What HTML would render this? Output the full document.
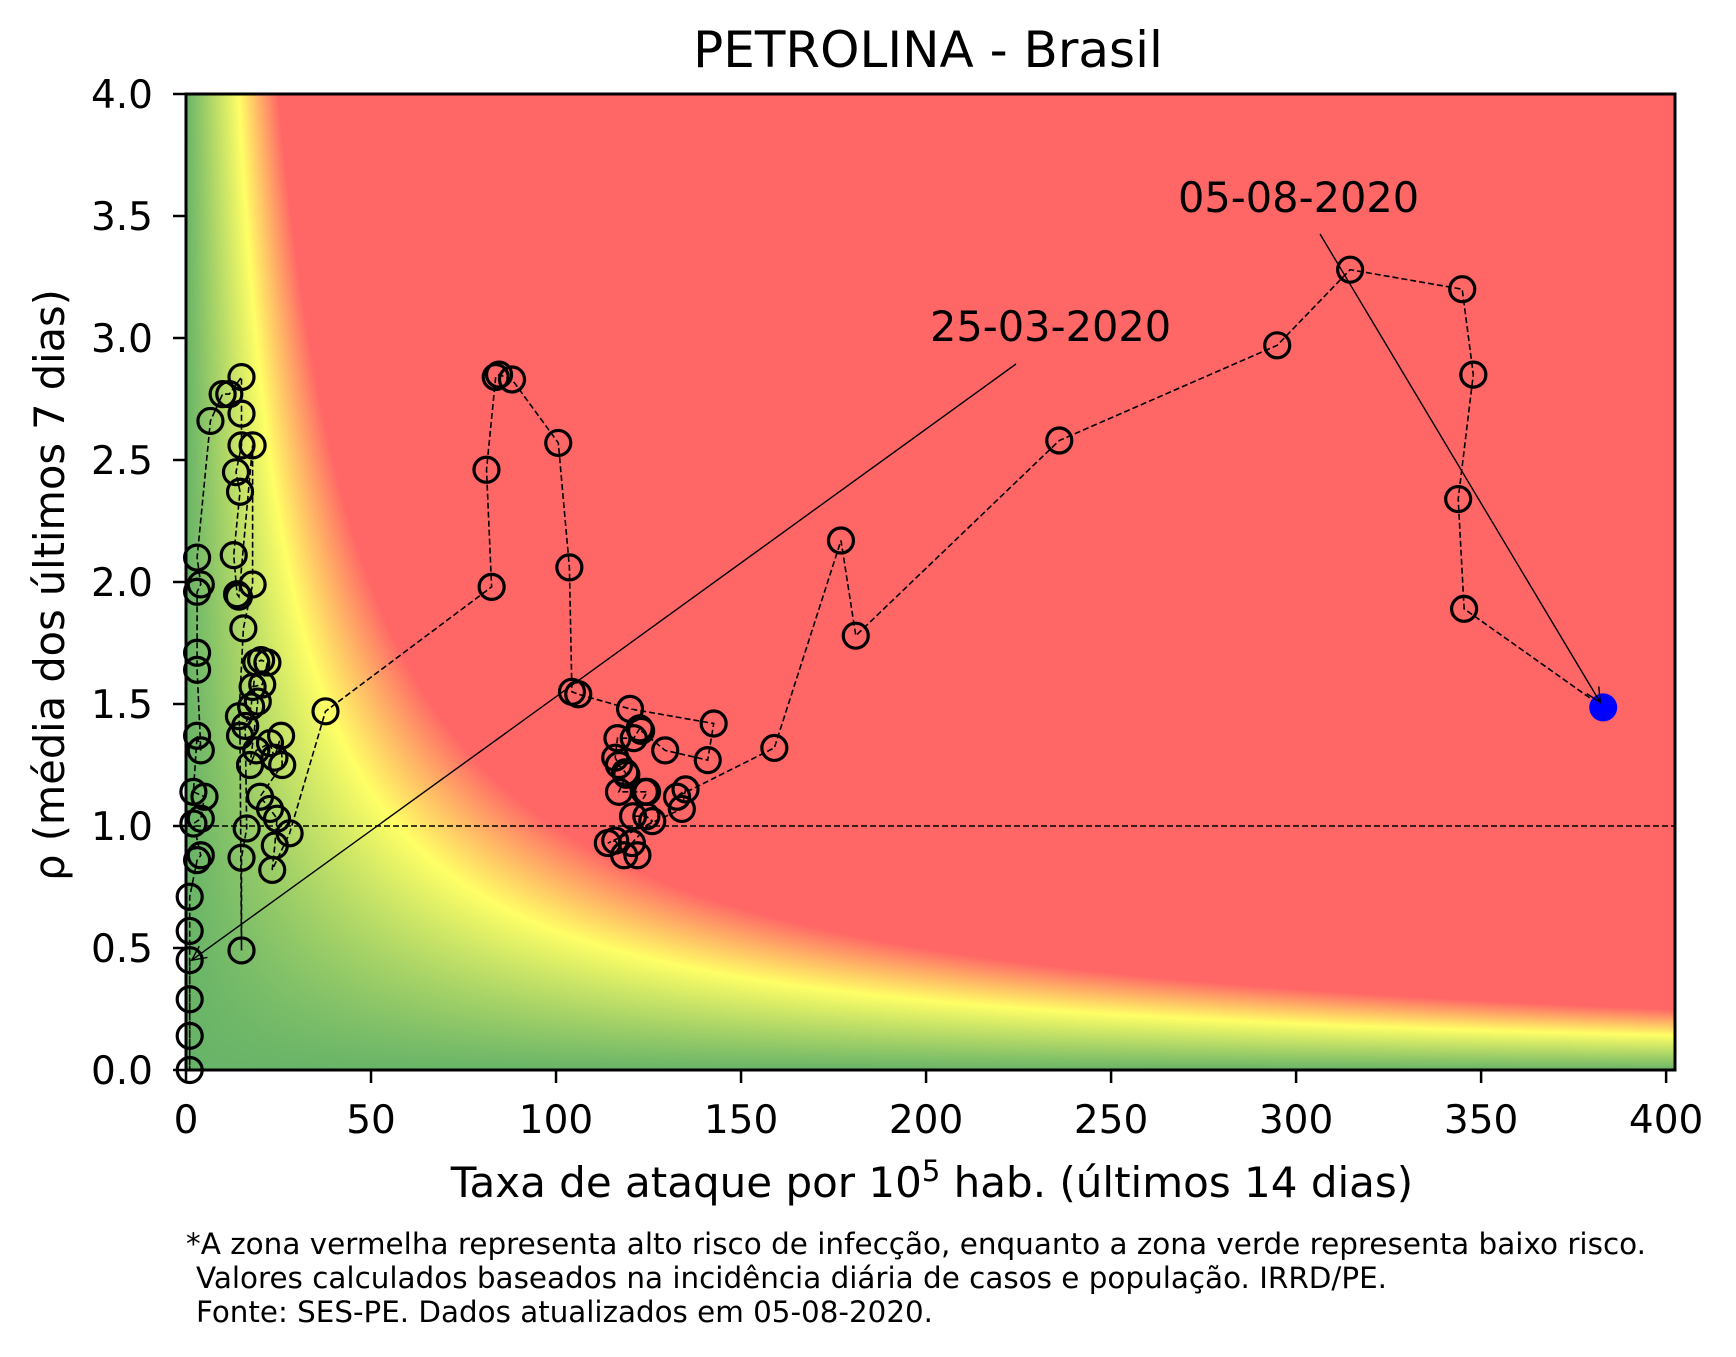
<!DOCTYPE html>
<html><head><meta charset="utf-8">
<style>
html,body{margin:0;padding:0;background:#fff;}
#wrap{position:relative;width:1736px;height:1357px;overflow:hidden;}
canvas{position:absolute;left:0;top:0;}
svg{position:absolute;left:0;top:0;}
text{font-family:"DejaVu Sans","Liberation Sans",sans-serif;fill:#000;}
</style></head>
<body>
<div id="wrap">
<canvas id="heat" width="1736" height="1357"></canvas>
<svg id="svg" width="1736" height="1357" xmlns="http://www.w3.org/2000/svg">
<text x="928" y="67" font-size="50" text-anchor="middle">PETROLINA - Brasil</text>
<text x="932" y="1197" font-size="42" text-anchor="middle">Taxa de ataque por 10<tspan dy="-16" font-size="29">5</tspan><tspan dy="16"> hab. (últimos 14 dias)</tspan></text>
<text transform="translate(64,585) rotate(-90)" font-size="41.5" text-anchor="middle">ρ (média dos últimos 7 dias)</text>
<text x="186" y="1254" font-size="29" textLength="1460" lengthAdjust="spacingAndGlyphs">*A zona vermelha representa alto risco de infecção, enquanto a zona verde representa baixo risco.</text>
<text x="196" y="1288" font-size="29" textLength="1191" lengthAdjust="spacingAndGlyphs">Valores calculados baseados na incidência diária de casos e população. IRRD/PE.</text>
<text x="196" y="1322" font-size="29" textLength="737" lengthAdjust="spacingAndGlyphs">Fonte: SES-PE. Dados atualizados em 05-08-2020.</text>
<g id="plot"></g>
</svg>
</div>
<script>
const xs = [1.0,1,1,1,1,1,3,4,2,4,5,2,3,4,3,3,3,4,3,6.6,9.9,11.7,15,15,15,13.5,14.6,12.9,13.8,14.3,18,18,15.5,14.3,14.6,15,15,16.4,16,17.6,19,20.3,22,20.6,18,19.4,17.3,19,22.7,23.9,25.7,26,20,22.7,24.6,24,23.3,28,37.7,82.6,81.2,83.7,84.6,88.1,100.6,103.6,104.3,106,120,142.6,141,129.5,123,122.6,121,116.6,116,117,118.7,119,117,124,124.6,120.8,124.4,126,120.5,122,118.4,116,114,134,135,132.7,159,177,181,236,294.9,314.6,344.9,347.9,343.8,345.4,383];
const ys = [0.45,0,0.14,0.29,0.57,0.71,0.86,0.88,1.01,1.03,1.12,1.14,1.37,1.31,1.64,1.71,1.96,1.99,2.1,2.66,2.77,2.77,2.84,2.69,2.56,2.45,2.37,2.11,1.95,1.94,2.56,1.99,1.81,1.45,1.37,0.49,0.87,0.99,1.41,1.49,1.67,1.68,1.67,1.58,1.57,1.51,1.25,1.31,1.34,1.28,1.37,1.25,1.12,1.07,1.03,0.92,0.82,0.97,1.47,1.98,2.46,2.84,2.85,2.83,2.57,2.06,1.55,1.54,1.48,1.42,1.27,1.31,1.39,1.40,1.36,1.36,1.28,1.25,1.22,1.21,1.14,1.14,1.14,1.04,1.04,1.02,0.93,0.88,0.88,0.94,0.93,1.07,1.15,1.12,1.32,2.17,1.78,2.58,2.97,3.28,3.20,2.85,2.34,1.89,1.486];
const xTicks = [0,50,100,150,200,250,300,350,400];
const yTicks = [0.0,0.5,1.0,1.5,2.0,2.5,3.0,3.5,4.0];
const xMax = 402.4, yMax = 4.0;
const annStart = "25-03-2020", annEnd = "05-08-2020";

const L=186, R=1675, T=94, B=1070;
const sx = v => L + v*(R-L)/xMax;
const sy = v => B - v*(B-T)/yMax;

const ctx=document.getElementById('heat').getContext('2d');
const W=R-L, H=B-T;
const img=ctx.createImageData(W,H);
const g=[104,180,104], yl=[255,255,102], rd=[255,102,102];
const FY=57, FR=100;
for(let j=0;j<H;j++){
  const rho=(B-(T+j+0.5))*yMax/(B-T);
  for(let i=0;i<W;i++){
    const x=(i+0.5)*xMax/(R-L);
    const f=x*rho; let c;
    if(f<=FY){const t=f/FY;c=[g[0]+(yl[0]-g[0])*t,g[1]+(yl[1]-g[1])*t,g[2]+(yl[2]-g[2])*t];}
    else if(f<=FR){const t=(f-FY)/(FR-FY);c=[255,yl[1]+(rd[1]-yl[1])*t,102];}
    else c=rd;
    const k=(j*W+i)*4;img.data[k]=c[0];img.data[k+1]=c[1];img.data[k+2]=c[2];img.data[k+3]=255;
  }
}
ctx.putImageData(img,L,T);

const NS="http://www.w3.org/2000/svg";
const plot=document.getElementById('plot');
function mk(tag,attrs,parent){const e=document.createElementNS(NS,tag);for(const k in attrs)e.setAttribute(k,attrs[k]);(parent||plot).appendChild(e);return e;}

let rl=mk('line',{x1:L,x2:R,y1:sy(1),y2:sy(1),stroke:'#000','stroke-width':1.6,'stroke-dasharray':'6,3'});



let d='';
for(let i=0;i<xs.length;i++){d+=(i?'L':'M')+sx(xs[i]).toFixed(1)+','+sy(ys[i]).toFixed(1);}
let pth=mk('path',{d:d,fill:'none',stroke:'#000','stroke-width':1.6,'stroke-dasharray':'6,3'});



for(let i=0;i<xs.length-1;i++){
  const c=mk('circle',{cx:sx(xs[i]),cy:sy(ys[i]),r:12.5,fill:'none',stroke:'#000','stroke-width':3.2});
  
  
}
const n=xs.length-1;
const last=mk('circle',{cx:sx(xs[n]),cy:sy(ys[n]),r:14,fill:'#0000ff'});



function arrow(x1,y1,x2,y2,name){
  const gr=mk('g',{});
  
  
  mk('line',{x1:x1,y1:y1,x2:x2,y2:y2,stroke:'#000','stroke-width':1.4},gr);
  const a=Math.atan2(y2-y1,x2-x1),l=16,s=0.45;
  mk('path',{d:`M${x2-l*Math.cos(a-s)},${y2-l*Math.sin(a-s)}L${x2},${y2}L${x2-l*Math.cos(a+s)},${y2-l*Math.sin(a+s)}`,fill:'none',stroke:'#000','stroke-width':1.4},gr);
}
arrow(1016,364,sx(xs[0])+2,sy(ys[0]),'start-arrow');
let t1=mk('text',{x:930,y:341,'font-size':41.5});t1.textContent=annStart;


arrow(1320,234,sx(xs[n])-3,sy(ys[n])-5,'end-arrow');
let t2=mk('text',{x:1178,y:212,'font-size':41.5});t2.textContent=annEnd;



const fr=mk('rect',{x:L,y:T,width:R-L,height:B-T,fill:'none',stroke:'#000','stroke-width':3});



xTicks.forEach(v=>{
  const x=sx(v);
  const tk=mk('line',{x1:x,x2:x,y1:B,y2:B+13,stroke:'#000','stroke-width':2.5});
  
  
  const tl=mk('text',{x:x,y:B+63,'font-size':39,'text-anchor':'middle'});
  tl.textContent=String(v);
  
  
});
yTicks.forEach(v=>{
  const y=sy(v);
  const tk=mk('line',{x1:L-13,x2:L,y1:y,y2:y,stroke:'#000','stroke-width':2.5});
  
  
  const tl=mk('text',{x:153,y:y+14,'font-size':39,'text-anchor':'end'});
  tl.textContent=v.toFixed(1);
  
  
});
</script>
</body></html>
